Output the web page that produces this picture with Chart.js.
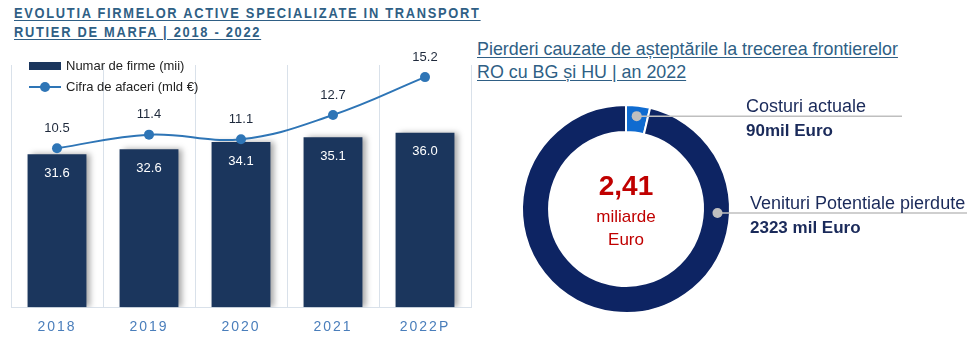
<!DOCTYPE html>
<html>
<head>
<meta charset="utf-8">
<script src="https://cdn.jsdelivr.net/npm/chart.js@4/dist/chart.umd.min.js"></script>
<style>
  html, body { margin: 0; padding: 0; background: #fff; }
  body { width: 967px; height: 342px; position: relative; overflow: hidden; font-family: 'Liberation Sans', Arial, sans-serif; }
  .title-left { position: absolute; left: 14px; top: 3px; font-weight: bold; font-size: 15px; line-height: 19px; letter-spacing: 2px; color: #2f5f85; text-decoration: underline; text-underline-offset: 2px; transform: scaleX(0.857); transform-origin: 0 0; white-space: nowrap; }
  .title-right { position: absolute; left: 477px; top: 37px; font-size: 19px; line-height: 23px; color: #2f5f85; text-decoration: underline; text-underline-offset: 2px; transform: scaleX(0.94); transform-origin: 0 0; white-space: nowrap; }
  #left { position: absolute; left: 0; top: 0; width: 480px; height: 342px; }
  #right { position: absolute; left: 480px; top: 90px; width: 487px; height: 252px; }
  .legend { position: absolute; left: 29px; top: 55px; font-size: 13px; color: #222; }
  .legend .row { height: 21px; display: flex; align-items: center; }
  .legend .sw { width: 32px; height: 8px; margin-right: 5px; position: relative; }
</style>
</head>
<body>
<div class="title-left">EVOLUTIA FIRMELOR ACTIVE SPECIALIZATE IN TRANSPORT<br>RUTIER DE MARFA | 2018 - 2022</div>
<div class="title-right">Pierderi cauzate de așteptările la trecerea frontierelor<br>RO cu BG și HU | an 2022</div>
<div id="left"><canvas id="c1"></canvas></div>
<div id="right"><canvas id="c2"></canvas></div>
<div class="legend" id="legend"></div>
<script>
// ── date ──
const years = ['2018', '2019', '2020', '2021', '2022P'];
const firme = [31.6, 32.6, 34.1, 35.1, 36.0];
const cifra = [10.5, 11.4, 11.1, 12.7, 15.2];
const seriesNames = ['Numar de firme (mii)', 'Cifra de afaceri (mld €)'];

const lossLabels = ['Costuri actuale', 'Venituri Potentiale pierdute'];
const lossValues = [90, 2323];
const lossText = ['90mil Euro', '2323 mil Euro'];
const totalText = ['2,41', 'miliarde', 'Euro'];

const BAR = '#1b365d';
const LINE = '#2e75b6';
const NAVY = '#0d2463';
const BRIGHT = '#0f6bd0';
const GREY = '#bfbfbf';
const TXT = '#1a2a5a';
const RED = '#c00000';
const FONT = "'Liberation Sans', Arial, sans-serif";

// ── legenda (html) ──
const lg = document.getElementById('legend');
lg.innerHTML =
  '<div class="row"><div class="sw" style="background:' + BAR + '"></div>' + seriesNames[0] + '</div>' +
  '<div class="row"><div class="sw"><div style="position:absolute;left:0;right:0;top:3px;height:2px;background:' + LINE + '"></div>' +
  '<div style="position:absolute;left:11px;top:-1px;width:10px;height:10px;border-radius:50%;background:' + LINE + '"></div></div>' + seriesNames[1] + '</div>';

// ── plugin: spatiere litere pe axa x ──
const spacing = {
  id: 'spacing',
  beforeDraw(chart) { chart.ctx.letterSpacing = '2px'; },
  beforeDatasetsDraw(chart) { chart.ctx.letterSpacing = '0px'; }
};

// ── plugin: umbra barelor ──
const barShadow = {
  id: 'barShadow',
  beforeDatasetDraw(chart, args) {
    if (args.meta.type !== 'bar') return;
    const ctx = chart.ctx;
    ctx.save();
    ctx.shadowColor = 'rgba(0,0,0,0.35)';
    ctx.shadowBlur = 6;
    ctx.shadowOffsetX = 4;
  },
  afterDatasetDraw(chart, args) {
    if (args.meta.type !== 'bar') return;
    chart.ctx.restore();
  }
};

// ── plugin: etichete valori ──
const valueLabels = {
  id: 'valueLabels',
  afterDatasetsDraw(chart) {
    const ctx = chart.ctx;
    ctx.save();
    ctx.font = '13px ' + FONT;
    ctx.textAlign = 'center';
    ctx.textBaseline = 'middle';
    chart.data.datasets.forEach((ds, i) => {
      const meta = chart.getDatasetMeta(i);
      meta.data.forEach((el, j) => {
        const txt = ds.data[j].toFixed(1);
        if (meta.type === 'bar') {
          ctx.fillStyle = '#fff';
          ctx.fillText(txt, el.x, el.y + 19);
        } else {
          ctx.fillStyle = '#1f2a3c';
          ctx.fillText(txt, el.x, el.y - 20);
        }
      });
    });
    ctx.restore();
  }
};

new Chart(document.getElementById('c1'), {
  data: {
    labels: years,
    datasets: [
      {
        type: 'line',
        label: seriesNames[1],
        data: cifra,
        yAxisID: 'y1',
        borderColor: LINE,
        backgroundColor: LINE,
        borderWidth: 2,
        tension: 0.4,
        pointRadius: 5,
        pointBackgroundColor: LINE,
        pointBorderWidth: 0,
        order: 0
      },
      {
        type: 'bar',
        label: seriesNames[0],
        data: firme,
        yAxisID: 'y',
        backgroundColor: BAR,
        barPercentage: 0.64,
        categoryPercentage: 1,
        order: 1
      }
    ]
  },
  options: {
    responsive: true,
    maintainAspectRatio: false,
    animation: false,
    layout: { padding: { left: 11, right: 9, top: 65, bottom: -6 } },
    scales: {
      x: {
        offset: true,
        grid: { display: true, color: '#d9e1ea', offset: true, drawTicks: false },
        border: { color: '#d9e1ea' },
        ticks: { color: '#4a7ebb', padding: 12, font: { size: 14, family: FONT } }
      },
      y: { display: false, min: 0, max: 50 },
      y1: { display: false, min: 0, max: 16 }
    },
    plugins: { legend: { display: false }, tooltip: { enabled: false } }
  },
  plugins: [spacing, barShadow, valueLabels]
});

// ── plugin: text central + linii de legatura ──
const donutText = {
  id: 'donutText',
  afterDraw(chart) {
    const ctx = chart.ctx;
    const arcs = chart.getDatasetMeta(0).data;
    const a0 = arcs[0];
    const cx = a0.x, cy = a0.y;
    const rMid = (a0.innerRadius + a0.outerRadius) / 2 + 1;
    ctx.save();

    // text central
    ctx.textAlign = 'center';
    ctx.textBaseline = 'alphabetic';
    ctx.fillStyle = RED;
    ctx.font = 'bold 28px ' + FONT;
    ctx.fillText(totalText[0], cx, cy - 14);
    ctx.font = '17px ' + FONT;
    ctx.fillText(totalText[1], cx, cy + 13);
    ctx.fillText(totalText[2], cx, cy + 36);

    // puncte pe felii: mijlocul feliei mici, partea dreapta pentru felia mare
    const angles = [(a0.startAngle + a0.endAngle) / 2, 0];
    const dy = [-2, 4];
    const ends = [422, 487];
    const textX = [266, 270];
    angles.forEach((ang, i) => {
      const px = cx + Math.cos(ang) * rMid;
      const py = cy + Math.sin(ang) * rMid + dy[i];
      ctx.strokeStyle = GREY;
      ctx.lineWidth = 1.5;
      ctx.beginPath();
      ctx.moveTo(px, py);
      ctx.lineTo(ends[i], py);
      ctx.stroke();
      ctx.fillStyle = GREY;
      ctx.beginPath();
      ctx.arc(px, py, 5, 0, Math.PI * 2);
      ctx.fill();

      ctx.textAlign = 'left';
      ctx.fillStyle = TXT;
      ctx.font = '18px ' + FONT;
      ctx.fillText(lossLabels[i], textX[i], py - 4);
      ctx.font = 'bold 17px ' + FONT;
      ctx.fillText(lossText[i], textX[i], py + 20);
    });
    ctx.restore();
  }
};

new Chart(document.getElementById('c2'), {
  type: 'doughnut',
  data: {
    labels: lossLabels,
    datasets: [{
      data: lossValues,
      backgroundColor: [BRIGHT, NAVY],
      borderColor: '#fff',
      borderWidth: 2
    }]
  },
  options: {
    responsive: true,
    maintainAspectRatio: false,
    animation: false,
    cutout: '74%',
    layout: { padding: { left: 41, top: 14, right: 236, bottom: 28 } },
    plugins: { legend: { display: false }, tooltip: { enabled: false } }
  },
  plugins: [donutText]
});
</script>
</body>
</html>
